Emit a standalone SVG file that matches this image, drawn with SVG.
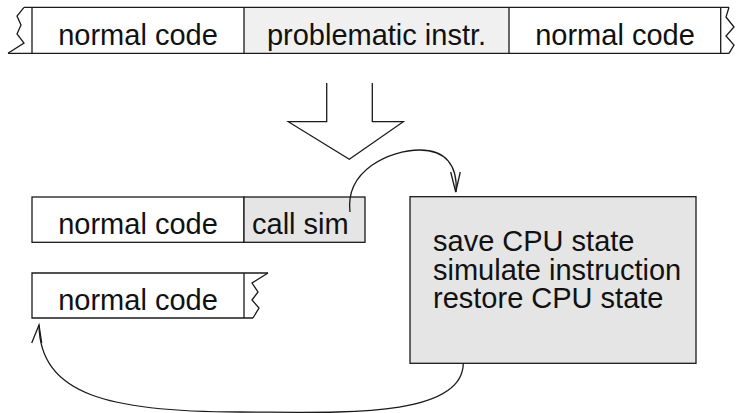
<svg xmlns="http://www.w3.org/2000/svg" width="741" height="413" viewBox="0 0 741 413">
<style>
.ln{fill:none;stroke:#1a1a1a;stroke-width:1.3;stroke-linejoin:miter}
.bx{stroke:#1a1a1a;stroke-width:1.3}
.t{font-family:"Liberation Sans",Arial,Helvetica,sans-serif;font-size:29px;fill:#111}
.c{text-anchor:middle}
</style>
<rect width="741" height="413" fill="#fff"/>
<g id="top-bar">
  <rect x="244" y="7.3" width="265" height="46" fill="#f0f0f0"/>
  <path class="ln" d="M24,7.3 H729 M8,53.3 H729 M32,7.3 V53.3 M244,7.3 V53.3 M509,7.3 V53.3 M720.7,7.3 V53.3"/>
  <polyline class="ln" points="24,7.3 17,16 21,25 17,34 24,43 8,53.3"/>
  <polyline class="ln" points="729,7.3 726,17 734,27 726,36 734,45 729,53.3"/>
  <text class="t c" x="138" y="45">normal code</text>
  <text class="t c" x="376.5" y="45">problematic instr.</text>
  <text class="t c" x="615" y="45">normal code</text>
</g>
<g id="big-arrow">
  <polyline class="ln" points="326.7,83 326.7,121.7 288.3,121.7 349.3,159.3 403.3,121.7 372.3,121.7 372.3,83"/>
</g>
<g id="code-call">
  <rect class="bx" x="32" y="197" width="212" height="45.3" fill="#fff"/>
  <rect class="bx" x="244" y="197" width="121" height="45.3" fill="#e5e5e5"/>
  <text class="t c" x="138" y="234">normal code</text>
  <text class="t" x="252" y="234">call sim</text>
</g>
<g id="code-resume">
  <path class="ln" d="M268,273 H32 V318 H253 M244,273 V318"/>
  <polyline class="ln" points="268,273 252,283 258,292 252,300 259,308 253,318"/>
  <text class="t c" x="138" y="310">normal code</text>
</g>
<g id="sim-routine">
  <rect class="bx" x="410" y="196.7" width="286" height="166.6" fill="#e5e5e5"/>
  <text class="t" x="433" y="251">save CPU state</text>
  <text class="t" x="433" y="280">simulate instruction</text>
  <text class="t" x="433" y="308">restore CPU state</text>
</g>
<g id="connectors">
  <path class="ln" d="M350,212 C345,170 390,150 420,150 C445,150 458,165 456,192"/>
  <polyline class="ln" points="450.7,172 455.7,192 460.3,172"/>
  <path class="ln" d="M463.3,363.3 C463,420 330,412 240,412 C110,412 40,395 39,325"/>
  <polyline class="ln" points="31.7,343 39,325 41.7,343"/>
</g>
</svg>
